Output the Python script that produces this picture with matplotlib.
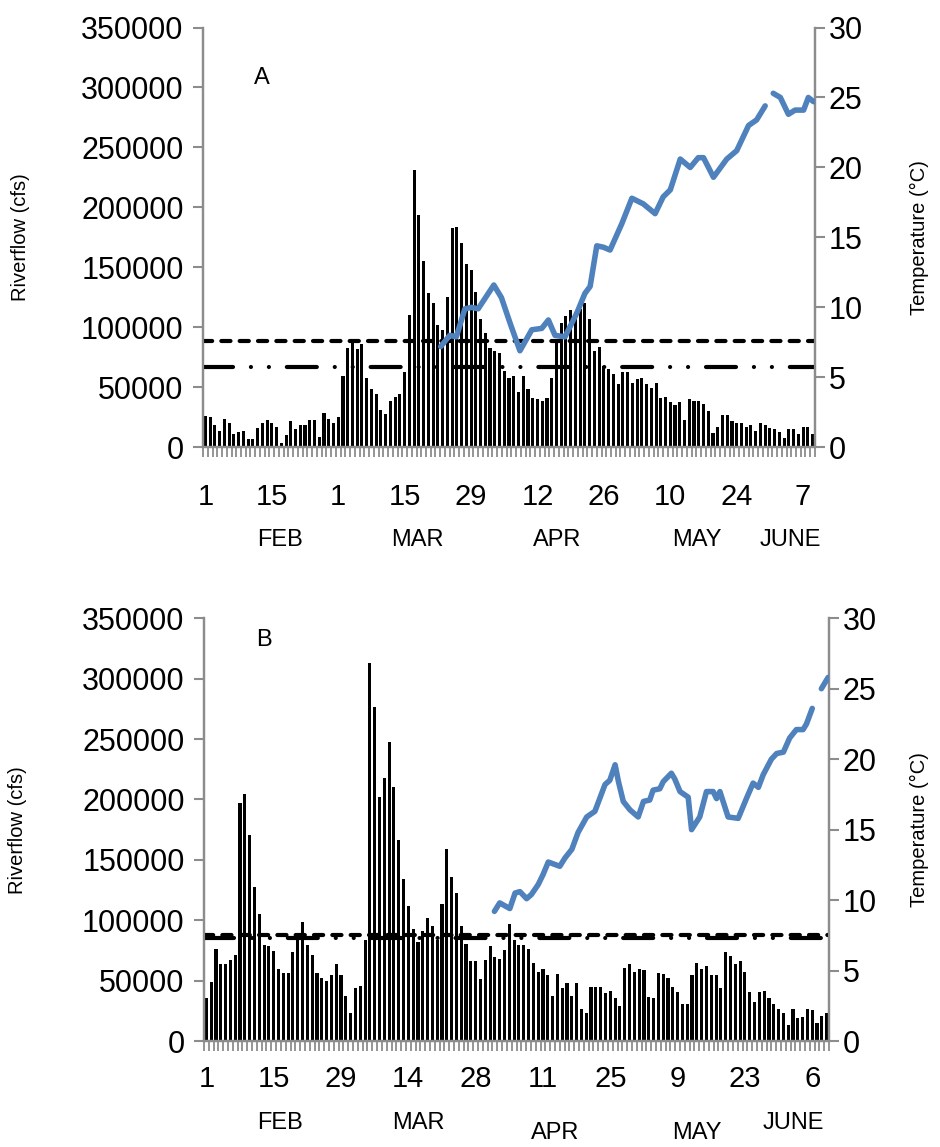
import numpy as np
import matplotlib
matplotlib.use('Agg')
import matplotlib.pyplot as plt

plt.rcParams['font.family'] = ['Liberation Sans', 'DejaVu Sans']

#### data (daily riverflow from Feb 1, temperature on day index)
flow_a = [26500, 25700, 19000, 14000, 24000, 20000, 10800, 12400, 14000, 6600,
          6600, 15800, 20000, 22400, 20000, 16600, 3300, 10000, 21600, 15000,
          18300, 18300, 23200, 22400, 8300, 29000, 24000, 20000, 25700, 59700,
          83000, 87100, 82100, 86300, 58000, 49000, 44800, 31500, 27400, 39000,
          42300, 44800, 63000, 110400,
          231500, 194000, 155000, 128600, 120300, 102000, 98000, 125000, 182500, 183300,
          170000, 152500, 147700, 129400, 107000, 95400, 83000, 80500, 78800, 63900,
          58000, 59700, 46500, 59700, 49000, 41500, 40700, 39000, 41500, 58000,
          87100, 103700, 109500, 114500, 112800, 115300, 120300, 107000, 80500, 83800,
          68000, 65500, 61400,
          53100, 63000, 63000, 54000, 57300, 58000, 53100, 49800, 54000, 41500,
          42300, 38200, 34900, 38200, 23200, 40700, 39000, 39000, 36500, 29900,
          11600, 16600, 26600, 26600, 21600, 20000, 20000, 16600, 18300, 14000,
          20000, 18300, 15800, 15000, 12400, 7500, 15000, 15000, 10800, 16600,
          16600, 10800]

flow_b = [35600, 48900, 76200, 63800, 63800, 67100, 71200, 197000, 204500, 170600,
          127500, 105200, 79500, 78700, 74500, 59600, 56300, 56300, 73700, 84000,
          98500, 79500, 71200, 56300, 52200, 49700, 54600, 63800, 54600, 37300,
          23200, 43900, 45500, 83600, 313000, 276600, 202000, 217800, 247600, 210300,
          166400, 134100, 111800,
          92700, 82000, 91000, 101800, 95200, 83600, 113400, 159000, 135700, 122500,
          95200, 80300, 66200, 66200, 51300, 67100, 78700, 69600, 67900, 75300,
          96900, 83600, 79500, 79500, 76200, 64600, 57100, 59600, 54600, 37300,
          55500, 43900, 48000, 37300, 48000, 26500, 23200, 44700, 44700, 44700,
          39700, 41400, 35600,
          29000, 60400, 63800, 57100, 59600, 58800, 36400, 35600, 56300, 55500,
          52200, 44700, 40500, 30600, 30600, 54600, 64600, 59600, 62100, 54600,
          54600, 43900, 73700, 70400, 63800, 66200, 57100, 40500, 32300, 40500,
          41400, 35600, 30600, 26500, 23200, 13200, 26500, 19000, 19900, 26500,
          25700, 14900, 20700, 23200]

temp_day_a = [49.6, 51.5, 52.9, 54.7, 56.1, 57.5, 60.8, 62.4, 64.2, 66.3,
              68.8, 70.9, 72.3, 73.7, 75.8, 78.3, 80.0, 81.1, 82.5, 83.9,
              85.3, 87.8, 89.9, 92.3, 94.8, 96.5, 98.0, 100.1, 102.2, 103.9,
              105.0, 107.1, 109.9, 112.0, 114.5, 116.2, 118.0, 118.8, 119.7, 121.2,
              122.9, 124.3, 126.1, 127.1, 128.2]
temp_a = [7.2, 8.0, 7.9, 9.9, 10.0, 9.9, 11.6, 10.7, 8.9, 6.9,
          8.4, 8.5, 9.1, 8.0, 7.9, 9.6, 11.0, 11.5, 14.4, 14.3,
          14.1, 16.0, 17.8, 17.4, 16.7, 17.9, 18.4, 20.6, 20.0, 20.7,
          20.7, 19.3, 20.6, 21.2, 23.0, 23.4, 24.4, np.nan, 25.3, 25.0,
          23.8, 24.1, 24.1, 25.0, 24.7]

temp_day_b = [59.9, 61.0, 63.1, 64.2, 65.2, 66.6, 67.6, 69.0, 70.0, 71.1,
              73.5, 74.6, 76.0, 77.3, 79.1, 80.8, 82.9, 83.9, 85.0, 85.7,
              86.7, 88.1, 89.8, 90.9, 92.2, 92.9, 94.3, 95.0, 96.7, 97.4,
              98.5, 100.2, 100.9, 102.6, 104.0, 105.4, 106.1, 106.8, 108.5, 110.6,
              112.3, 113.7, 114.8, 115.8, 117.5, 118.6, 120.0, 121.3, 122.7, 124.1,
              124.8, 126.0, 126.9, 127.9, 129.3]
temp_b = [9.2, 9.8, 9.4, 10.5, 10.6, 10.1, 10.4, 11.1, 11.8, 12.7,
          12.4, 13.0, 13.6, 14.8, 15.9, 16.3, 18.2, 18.5, 19.6, 18.4,
          17.0, 16.4, 15.9, 17.0, 17.1, 17.8, 17.9, 18.4, 19.0, 18.6,
          17.7, 17.3, 15.0, 15.9, 17.7, 17.7, 17.2, 17.7, 15.9, 15.8,
          17.2, 18.3, 18.0, 18.9, 20.0, 20.4, 20.5, 21.5, 22.1, 22.1,
          22.5, 23.6, np.nan, 25.0, 25.8]

dash_a, dashdot_a = 89000, 67000
dash_b, dashdot_b = 87500, 85500

day_labels_a = ['1', '15', '1', '15', '29', '12', '26', '10', '24', '7']
day_labels_b = ['1', '15', '29', '14', '28', '11', '25', '9', '23', '6']
months = ['FEB', 'MAR', 'APR', 'MAY', 'JUNE']

grey = '#8c8c8c'
blue = '#4f81bd'


def panel(ax, flow, tday, temp, ydash, ydashdot, day_labels, day_pad,
          month_x, month_y, letter, tlabel_x):
    n = len(flow)
    x = np.arange(n)
    ax.bar(x, flow, width=0.65, color='black', zorder=2)
    l1 = ax.axhline(ydash, color='black', lw=3, zorder=3)
    l1.set_dashes([2.2, 2.2])
    l1.set_dash_capstyle('round')
    l2 = ax.axhline(ydashdot, color='black', lw=3, zorder=3)
    l2.set_dashes([7.2, 4.3, 0.01, 4.3, 0.01, 4.3])
    l2.set_dash_capstyle('round')

    ax.set_xlim(-0.5, n - 0.5)
    ax.set_ylim(0, 350000)
    ax.set_yticks(np.arange(0, 350001, 50000))
    ax.set_yticklabels([str(v) for v in range(0, 350001, 50000)], fontsize=22)
    ax.set_xticks(np.arange(0, 127, 14))
    ax.set_xticklabels(day_labels, fontsize=21)
    ax.set_xticks(np.arange(n + 1) - 0.5, minor=True)
    ax.tick_params(axis='x', which='major', length=0, pad=day_pad)
    ax.tick_params(axis='x', which='minor', length=7, width=1.3, color=grey)
    ax.tick_params(axis='y', length=7, width=1.5, color=grey, pad=7)
    for s in ['left', 'bottom', 'right']:
        ax.spines[s].set_color(grey)
        ax.spines[s].set_linewidth(1.6)
    ax.spines['top'].set_visible(False)
    ax.set_ylabel('Riverflow (cfs)', fontsize=14.5)
    ax.yaxis.set_label_coords(-0.283, 0.5)
    ax.text(0.096, letter[1], letter[0], transform=ax.transAxes, fontsize=17,
            ha='center', va='center')
    for m, mx, my in zip(months, month_x, month_y):
        ax.text(mx, my, m, transform=ax.get_xaxis_transform(), fontsize=17,
                ha='center', va='center')

    ax2 = ax.twinx()
    ax2.plot(tday, temp, color=blue, lw=4, solid_capstyle='round', zorder=4)
    ax2.set_ylim(0, 30)
    ax2.set_yticks(np.arange(0, 31, 5))
    ax2.set_yticklabels([str(v) for v in range(0, 31, 5)], fontsize=22)
    ax2.tick_params(axis='y', length=7, width=1.5, color=grey, pad=3)
    for s in ['left', 'bottom', 'right']:
        ax2.spines[s].set_color(grey)
        ax2.spines[s].set_linewidth(1.6)
    ax2.spines['top'].set_visible(False)
    ax2.set_ylabel('Temperature (\u00b0C)', fontsize=14.5)
    ax2.yaxis.set_label_coords(tlabel_x, 0.5)
    return ax2


fig = plt.figure(figsize=(9.4, 11.47), dpi=100)
ax1 = fig.add_axes([0.216, 0.610, 0.651, 0.366])
ax2 = fig.add_axes([0.217, 0.0924, 0.665, 0.3686])

panel(ax1, flow_a, temp_day_a, temp_a, dash_a, dashdot_a, day_labels_a, 26,
      [15.7, 44.6, 74.1, 103.6, 123.3], [-0.221] * 5, ('A', 0.879), 1.155)
panel(ax2, flow_b, temp_day_b, temp_b, dash_b, dashdot_b, day_labels_b, 17,
      [15.4, 44.1, 72.6, 102.1, 122.0], [-0.193, -0.193, -0.217, -0.217, -0.193],
      ('B', 0.948), 1.13)

fig.savefig('out.png', dpi=100)
